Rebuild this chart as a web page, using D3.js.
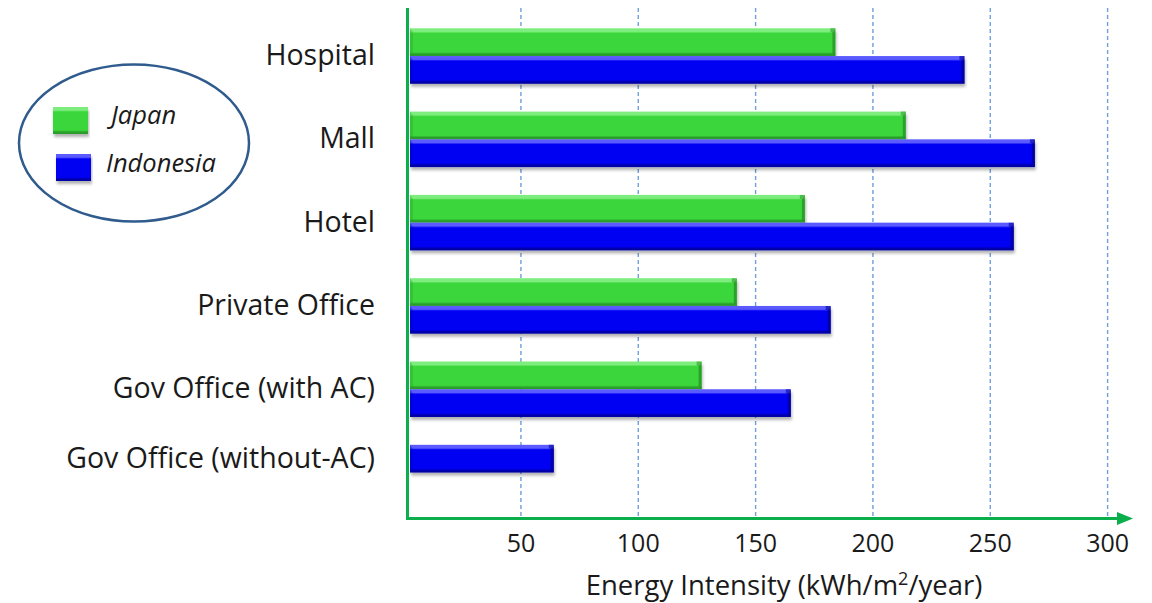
<!DOCTYPE html>
<html>
<head>
<meta charset="utf-8">
<script src="https://cdn.jsdelivr.net/npm/d3@7/dist/d3.min.js"></script>
<style>
  body { margin: 0; background: #ffffff; }
  text { font-family: "Open Sans", sans-serif; fill: #1a1a1a; }
</style>
</head>
<body>
<svg id="chart" width="1152" height="603"></svg>
<script>
// Building energy intensity, Japan vs Indonesia
const categories = ["Hospital", "Mall", "Hotel", "Private Office", "Gov Office (with AC)", "Gov Office (without-AC)"];
const japan = [184, 214, 171, 142, 127, null];
const indonesia = [239, 269, 260, 182, 165, 64];
const seriesNames = ["Japan", "Indonesia"];
const tickValues = [50, 100, 150, 200, 250, 300];
const axisTitle = "Energy Intensity (kWh/m";
const axisTitleSup = "2";
const axisTitleEnd = "/year)";

const svg = d3.select("#chart");

const axisGreen = "#0aae4a";
const palette = {
  Japan:     { light: "#7ded7d", main: "#3ad63a", dark: "#2a9e2a", edge: "#259025" },
  Indonesia: { light: "#5a5aff", main: "#0000f2", dark: "#0000a8", edge: "#00008c" }
};

const x = d3.scaleLinear().domain([0, 300]).range([403.6, 1107.6]);
const y = d3.scaleBand().domain(categories).range([14.4, 514.2]).paddingInner(0.334).paddingOuter(0.167);
const ySub = d3.scaleBand().domain([0, 1]).range([0, y.bandwidth()]);

const axisX = 407.5, axisY = 518.5, axisTop = 8;

// gradients & shadow
const defs = svg.append("defs");
seriesNames.forEach(name => {
  const c = palette[name];
  const g = defs.append("linearGradient").attr("id", "grad-" + name)
    .attr("x1", 0).attr("y1", 0).attr("x2", 0).attr("y2", 1);
  [[0, c.light], [0.12, c.light], [0.18, c.main], [0.86, c.main], [0.93, c.dark], [1, c.dark]]
    .forEach(([o, col]) => g.append("stop").attr("offset", o).attr("stop-color", col));
});
const f = defs.append("filter").attr("id", "shadow").attr("x", "-5%").attr("y", "-20%").attr("width", "110%").attr("height", "160%");
f.append("feDropShadow").attr("dx", 1).attr("dy", 3).attr("stdDeviation", 1.6)
  .attr("flood-color", "#000").attr("flood-opacity", 0.3);

// dashed gridlines
svg.append("g").selectAll("line").data(tickValues).join("line")
  .attr("x1", d => x(d)).attr("x2", d => x(d))
  .attr("y1", axisTop).attr("y2", axisY)
  .attr("stroke", "#6f9fd8").attr("stroke-width", 1.4).attr("stroke-dasharray", "4,3");

// bars: series without a value leave no gap inside their category
const barData = [];
categories.forEach((cat, i) => {
  const present = seriesNames.filter(s => (s === "Japan" ? japan[i] : indonesia[i]) != null);
  present.forEach((s, k) => {
    barData.push({ cat, series: s, value: s === "Japan" ? japan[i] : indonesia[i], slot: k });
  });
});

const x0 = axisX + 2.5;
const barG = svg.append("g").selectAll("g").data(barData).join("g")
  .attr("transform", d => `translate(0,${y(d.cat) + ySub(d.slot)})`);
const bh = ySub.bandwidth();
barG.append("rect")
  .attr("x", x0).attr("y", 0)
  .attr("width", d => x(d.value) - x0).attr("height", bh)
  .attr("fill", d => `url(#grad-${d.series})`)
  .attr("filter", "url(#shadow)");
// bevelled right end
barG.append("path")
  .attr("d", d => {
    const xe = x(d.value);
    return `M${xe},0 L${xe},${bh} L${xe - 3},${bh - 3} L${xe - 3},4 Z`;
  })
  .attr("fill", d => palette[d.series].edge).attr("opacity", 0.75);
barG.append("path")
  .attr("d", d => {
    const xe = x(d.value);
    return `M${xe - 5},0 L${xe},0 L${xe - 3},4 L${xe - 5},4 Z`;
  })
  .attr("fill", d => palette[d.series].dark).attr("opacity", 0.6);
// bevelled left start
barG.append("path")
  .attr("d", `M${x0},0 L${x0 + 3},4 L${x0 + 3},${bh - 3} L${x0},${bh} Z`)
  .attr("fill", d => palette[d.series].dark).attr("opacity", 0.35);

// category labels
svg.append("g").selectAll("text").data(categories).join("text")
  .attr("x", 375)
  .attr("y", (d, i) => {
    const n = (japan[i] != null ? 1 : 0) + (indonesia[i] != null ? 1 : 0);
    return y(d) + n * bh / 2 - 2;
  })
  .attr("text-anchor", "end").attr("dominant-baseline", "central")
  .style("font-size", "28.5px")
  .text(d => d);

// axes lines with arrow
svg.append("line").attr("x1", axisX).attr("x2", axisX).attr("y1", axisTop).attr("y2", axisY + 1.5)
  .attr("stroke", axisGreen).attr("stroke-width", 3);
svg.append("line").attr("x1", axisX - 1.5).attr("x2", 1119).attr("y1", axisY).attr("y2", axisY)
  .attr("stroke", axisGreen).attr("stroke-width", 3);
svg.append("path").attr("d", `M1117,${axisY - 6.5} L1133,${axisY} L1117,${axisY + 6.5} Z`).attr("fill", axisGreen);

// tick labels
svg.append("g").selectAll("text").data(tickValues).join("text")
  .attr("x", d => x(d)).attr("y", 552)
  .attr("text-anchor", "middle")
  .style("font-size", "25px")
  .text(d => d);

// axis title
const t = svg.append("text").attr("x", 784).attr("y", 595).attr("text-anchor", "middle").style("font-size", "27.5px");
t.append("tspan").text(axisTitle);
t.append("tspan").attr("dy", -10).style("font-size", "18px").text(axisTitleSup);
t.append("tspan").attr("dy", 10).text(axisTitleEnd);

// legend
const lg = svg.append("g");
lg.append("ellipse").attr("cx", 134).attr("cy", 143).attr("rx", 115).attr("ry", 78.5)
  .attr("fill", "#fff").attr("stroke", "#2f5b8d").attr("stroke-width", 2.5);
const legendItems = lg.selectAll("g").data(seriesNames).join("g")
  .attr("transform", (d, i) => `translate(${i === 0 ? 53 : 56},${i === 0 ? 107 : 154})`);
legendItems.append("rect").attr("width", 35).attr("height", 27)
  .attr("fill", d => `url(#grad-${d})`).attr("filter", "url(#shadow)");
legendItems.append("text")
  .attr("x", (d, i) => i === 0 ? 58 : 50).attr("y", (d, i) => i === 0 ? 17 : 18)
  .style("font-size", "25.5px").style("font-style", "italic")
  .text(d => d);
</script>
</body>
</html>
